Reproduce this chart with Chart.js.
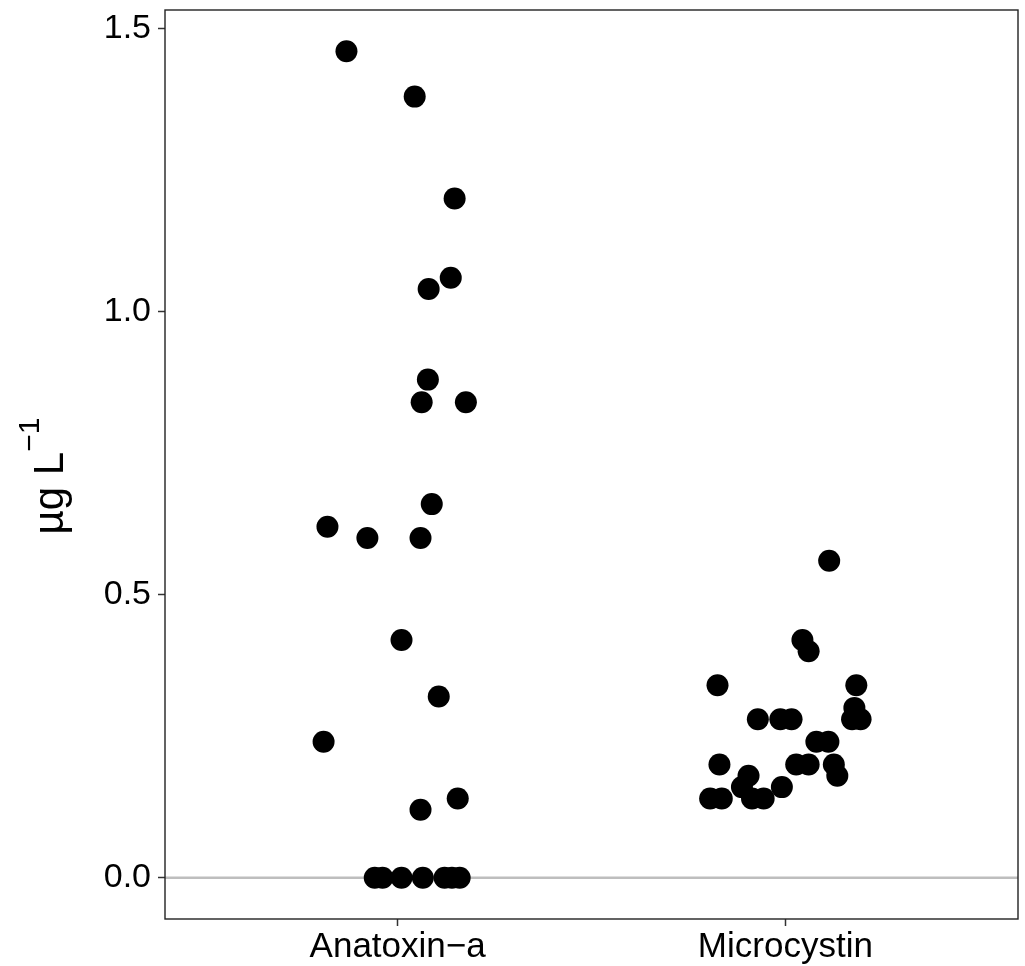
<!DOCTYPE html>
<html>
<head>
<meta charset="utf-8">
<script src="https://cdn.jsdelivr.net/npm/chart.js@4"></script>
<style>
  html, body { margin: 0; padding: 0; background: #ffffff; }
  #wrap { width: 1025px; height: 966px; }
</style>
</head>
<body>
<div id="wrap"><canvas id="c" width="1025" height="966"></canvas></div>
<script>
// ---- data ----
const categories = ['Anatoxin\u2212a', 'Microcystin'];
const yTicks = [0, 0.5, 1.0, 1.5];
const yTitle = '\u00b5g L';
const yTitleSup = '\u22121';

const anatoxinValues = [1.46, 1.38, 1.20, 1.06, 1.04, 0.88, 0.84, 0.84, 0.66, 0.62, 0.60, 0.60,
  0.42, 0.32, 0.24, 0.12, 0.14, 0, 0, 0, 0, 0, 0, 0];
const anatoxinJitter = [-0.132, 0.044, 0.147, 0.137, 0.080, 0.078, 0.062, 0.176, 0.088, -0.181, -0.078, 0.059,
  0.010, 0.106, -0.191, 0.059, 0.155, -0.059, -0.039, 0.010, 0.065, 0.121, 0.140, 0.160];

const microcystinValues = [0.56, 0.42, 0.40, 0.34, 0.34, 0.30, 0.28, 0.28, 0.28, 0.28, 0.28, 0.24, 0.24,
  0.20, 0.20, 0.20, 0.20, 0.18, 0.18, 0.16, 0.16, 0.14, 0.14, 0.14, 0.14];
const microcystinJitter = [0.113, 0.044, 0.060, -0.175, 0.183, 0.178, -0.071, -0.013, 0.016, 0.172, 0.194, 0.080, 0.111,
  -0.170, 0.028, 0.060, 0.125, -0.095, 0.134, -0.112, -0.009, -0.194, -0.164, -0.086, -0.056];

const refLineValue = 0;

// ---- build ----
const FONT = "'Liberation Sans', Arial, Helvetica, sans-serif";
function pts(vals, jit, idx) {
  return vals.map((v, i) => ({ x: idx + 1 + jit[i], y: v }));
}
const yMin = -0.073, yMax = 1.533;
const xMin = 0.4, xMax = 2.6;

const panelPlugin = {
  id: 'panel',
  afterDraw(chart) {
    const { ctx, chartArea: a } = chart;
    ctx.save();
    ctx.strokeStyle = '#222222';
    ctx.lineWidth = 1.4;
    ctx.strokeRect(a.left, a.top, a.right - a.left, a.bottom - a.top);
    // y axis title with superscript
    ctx.fillStyle = '#000000';
    ctx.textBaseline = 'alphabetic';
    ctx.textAlign = 'left';
    const mainFont = '42px ' + FONT;
    const supFont = '30px ' + FONT;
    ctx.font = mainFont;
    const w1 = ctx.measureText(yTitle).width;
    ctx.font = supFont;
    const w2 = ctx.measureText(yTitleSup).width;
    const w = w1 + w2;
    ctx.translate(63, 476);
    ctx.rotate(-Math.PI / 2);
    ctx.font = mainFont;
    ctx.fillText(yTitle, -w / 2, 0);
    ctx.font = supFont;
    ctx.fillText(yTitleSup, -w / 2 + w1, -24);
    ctx.restore();
  }
};

new Chart(document.getElementById('c'), {
  type: 'scatter',
  data: {
    datasets: [
      {
        label: categories[0],
        data: pts(anatoxinValues, anatoxinJitter, 0),
        pointRadius: 11,
        pointBackgroundColor: '#000000',
        pointBorderWidth: 0,
        pointBorderColor: '#000000'
      },
      {
        label: categories[1],
        data: pts(microcystinValues, microcystinJitter, 1),
        pointRadius: 11,
        pointBackgroundColor: '#000000',
        pointBorderWidth: 0,
        pointBorderColor: '#000000'
      },
      {
        type: 'line',
        label: 'ref',
        data: [{ x: xMin, y: refLineValue }, { x: xMax, y: refLineValue }],
        borderColor: '#bebebe',
        borderWidth: 2.6,
        pointRadius: 0,
        fill: false
      }
    ]
  },
  options: {
    responsive: false,
    animation: false,
    events: [],
    layout: { autoPadding: false, padding: { left: 0, top: 10, right: 7, bottom: 0 } },
    plugins: { legend: { display: false }, tooltip: { enabled: false }, title: { display: false } },
    scales: {
      x: {
        type: 'linear',
        min: xMin,
        max: xMax,
        afterBuildTicks(scale) { scale.ticks = categories.map((c, i) => ({ value: i + 1 })); },
        afterFit(scale) {
          scale.height = 47;
          scale.paddingLeft = 0; scale.paddingRight = 0;
          scale.paddingTop = 0; scale.paddingBottom = 0;
        },
        ticks: {
          autoSkip: false,
          maxRotation: 0,
          padding: 0,
          color: '#000000',
          font: { family: FONT, size: 35 },
          callback(v) { return categories[Math.round(v) - 1]; }
        },
        grid: { display: true, drawOnChartArea: false, drawTicks: true, tickLength: 7, tickColor: '#333333', tickWidth: 1.5 },
        border: { display: false }
      },
      y: {
        type: 'linear',
        min: yMin,
        max: yMax,
        afterBuildTicks(scale) { scale.ticks = yTicks.map(v => ({ value: v })); },
        afterFit(scale) {
          scale.width = 165;
          scale.paddingLeft = 0; scale.paddingRight = 0;
          scale.paddingTop = 0; scale.paddingBottom = 0;
        },
        ticks: {
          padding: 7,
          color: '#000000',
          font: { family: FONT, size: 34 },
          callback(v) { return Number(v).toFixed(1); }
        },
        grid: { display: true, drawOnChartArea: false, drawTicks: true, tickLength: 7, tickColor: '#333333', tickWidth: 1.5 },
        border: { display: false }
      }
    }
  },
  plugins: [panelPlugin]
});
</script>
</body>
</html>
